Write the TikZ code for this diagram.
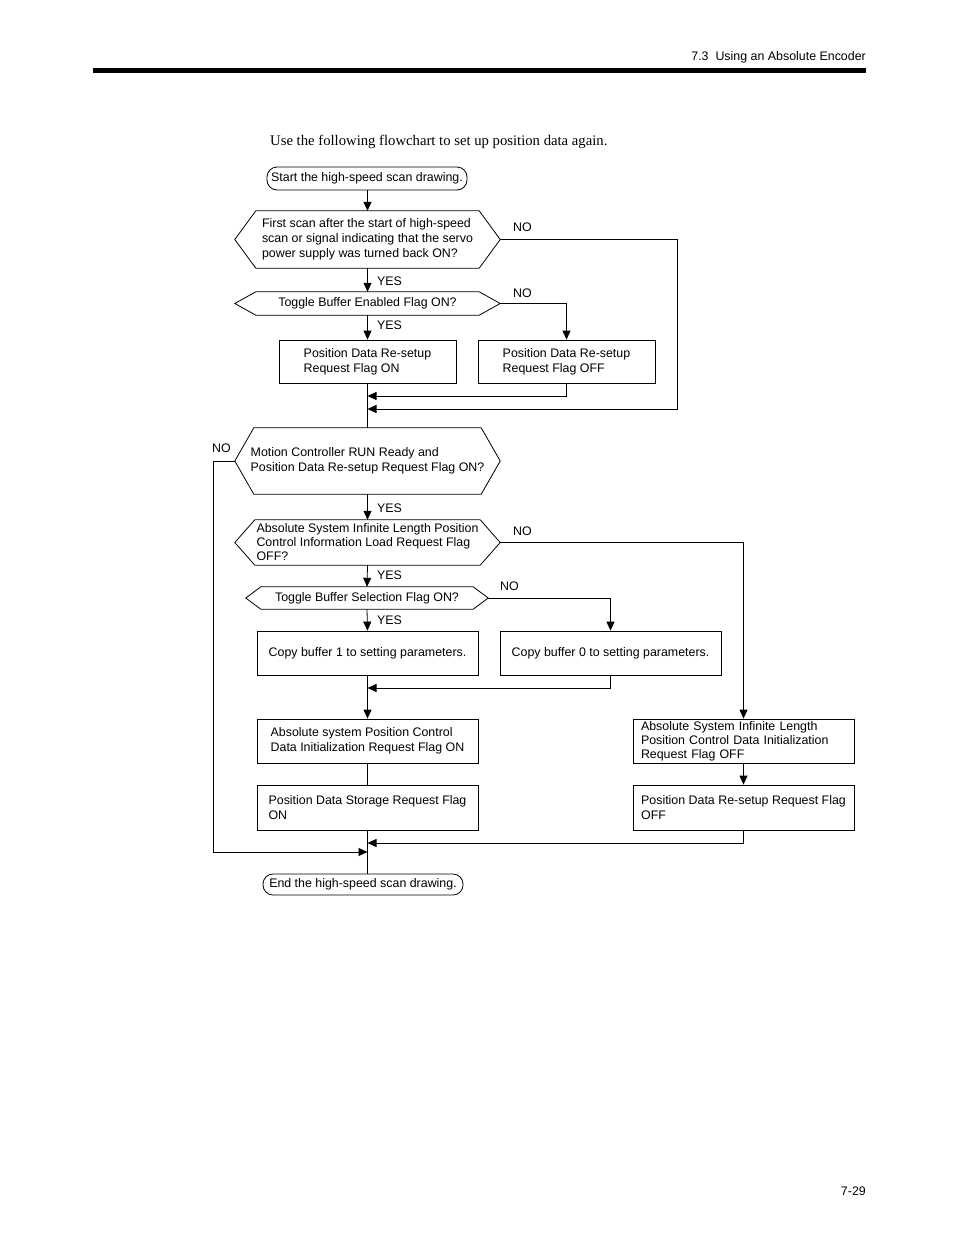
\documentclass[tikz,border=0pt]{standalone}
\usepackage{fontspec}
\setmainfont{Liberation Serif}
\setsansfont{Liberation Sans}
\usetikzlibrary{arrows.meta}
\newcommand\hexdraw[2]{\draw[line width=0.8pt] ([xshift=#2]#1.north west) -- ([xshift=-#2]#1.north east) -- (#1.east) -- ([xshift=-#2]#1.south east) -- ([xshift=#2]#1.south west) -- (#1.west) -- cycle;}
\begin{document}
\begin{tikzpicture}[x=1pt,y=-1pt,
  every node/.style={font=\sffamily\fontsize{12.4}{15}\selectfont},
  tight/.style={font=\sffamily\fontsize{12.4}{14}\selectfont},
  term/.style={draw,line width=0.8pt,rounded corners=10pt,inner sep=0pt,minimum height=#1},
  hexn/.style={inner sep=0pt,align=left},
  box/.style={draw,line width=0.8pt,inner sep=0pt,align=left,minimum width=221pt,minimum height=44pt},
  smallbox/.style={draw,line width=0.8pt,inner sep=0pt,align=left,minimum width=177pt,minimum height=43pt},
  lbl/.style={anchor=west,inner sep=0pt},
  arr/.style={line width=0.8pt,-{Triangle[length=9pt,width=8pt]}},
  ln/.style={line width=0.8pt}]
\path[use as bounding box] (0,0) rectangle (954,1235);
% header
\node[anchor=east,inner sep=0pt] (hdr) at (866,57) {7.3\ \ Using an Absolute Encoder};
\fill (93,68) rectangle (866,73);
\node[anchor=east,inner sep=0pt] (pg) at (866,1191) {7-29};
\node[anchor=west,inner sep=0pt,font=\rmfamily\fontsize{14.7}{17}\selectfont] (intro) at (270,142) {Use the following flowchart to set up position data again.};
% nodes
\node[term=23pt,minimum width=200pt] (start) at (367,178.5) {Start the high-speed scan drawing.};
\node[hexn,minimum width=265pt,minimum height=57pt] (d1) at (367.5,239.5) {First scan after the start of high-speed\\scan or signal indicating that the servo\\power supply was turned back ON?};
\hexdraw{d1}{21pt}
\node[hexn,minimum width=265pt,minimum height=23pt] (d2) at (367.5,303.5) {Toggle Buffer Enabled Flag ON?};
\hexdraw{d2}{21pt}
\node[smallbox] (b1) at (367.5,361.5) {Position Data Re-setup\\Request Flag ON};
\node[smallbox] (b2) at (566.5,361.5) {Position Data Re-setup\\Request Flag OFF};
\node[hexn,minimum width=265pt,minimum height=66pt] (d3) at (367.5,461) {Motion Controller RUN Ready and\\Position Data Re-setup Request Flag ON?};
\hexdraw{d3}{19pt}
\node[hexn,tight,minimum width=265pt,minimum height=45pt] (d4) at (367.5,542.5) {Absolute System Infinite Length Position\\Control Information Load Request Flag\\OFF?};
\hexdraw{d4}{20pt}
\node[hexn,minimum width=242pt,minimum height=22pt] (d5) at (367,598) {Toggle Buffer Selection Flag ON?};
\hexdraw{d5}{15pt}
\node[box,align=center] (c1) at (367.5,653) {Copy buffer 1 to setting parameters.};
\node[box,align=center] (c2) at (610.5,653) {Copy buffer 0 to setting parameters.};
\node[box] (a1) at (367.5,741) {Absolute system Position Control\\Data Initialization Request Flag ON};
\node[box,minimum height=45pt] (a2) at (367.5,807.5) {Position Data Storage Request Flag\\ON};
\node[box,tight,text width=205pt,inner xsep=8pt] (e1) at (743.5,741) {Absolute System Infinite Length\\Position Control Data Initialization\\Request Flag OFF};
\node[box,minimum height=45pt] (e2) at (743.5,807.5) {Position Data Re-setup Request Flag\\OFF};
\node[term=21pt,minimum width=200pt] (end) at (363,884.5) {End the high-speed scan drawing.};
% join points
\coordinate (j1) at (367.5,396);
\coordinate (j2) at (367.5,409);
\coordinate (j3) at (367.5,688);
\coordinate (j4) at (367.5,843);
\coordinate (j5) at (367.5,852);
\coordinate (r1) at (677,0);
\coordinate (l1) at (213,0);
% connectors
\draw[arr] (start.south -| d1.north) -- (d1.north);
\draw[arr] (d1.south) -- (d2.north);
\draw[arr] (d1.east) -- (d1.east -| r1) |- (j2);
\draw[arr] (d2.east) -| (b2.north);
\draw[arr] (d2.south) -- (b1.north);
\draw[arr] (b2.south) |- (j1);
\draw[ln] (b1.south) -- (d3.north);
\draw[arr] (d3.south) -- (d4.north);
\draw[arr] (d3.west) -- (d3.west -| l1) |- (j5);
\draw[arr] (d4.east) -| (e1.north);
\draw[arr] (d4.south) -- (d5.north);
\draw[arr] (d5.east) -| (c2.north);
\draw[arr] (d5.south) -- (c1.north);
\draw[arr] (c2.south) |- (j3);
\draw[arr] (c1.south) -- (a1.north);
\draw[ln] (a1.south) -- (a2.north);
\draw[ln] (a2.south) -- (a2.south |- end.north);
\draw[arr] (e1.south) -- (e2.north);
\draw[arr] (e2.south) |- (j4);
% labels
\node[lbl] (y1) at (377,281) {YES};
\node[lbl] (n1) at (513,227) {NO};
\node[lbl] (y2) at (377,325) {YES};
\node[lbl] (n2) at (513,293) {NO};
\node[lbl] (n3) at (212,448) {NO};
\node[lbl] (y3) at (377,508) {YES};
\node[lbl] (n4) at (513,531) {NO};
\node[lbl] (y4) at (377,575) {YES};
\node[lbl] (n5) at (500,586) {NO};
\node[lbl] (y5) at (377,620) {YES};
\end{tikzpicture}
\end{document}
